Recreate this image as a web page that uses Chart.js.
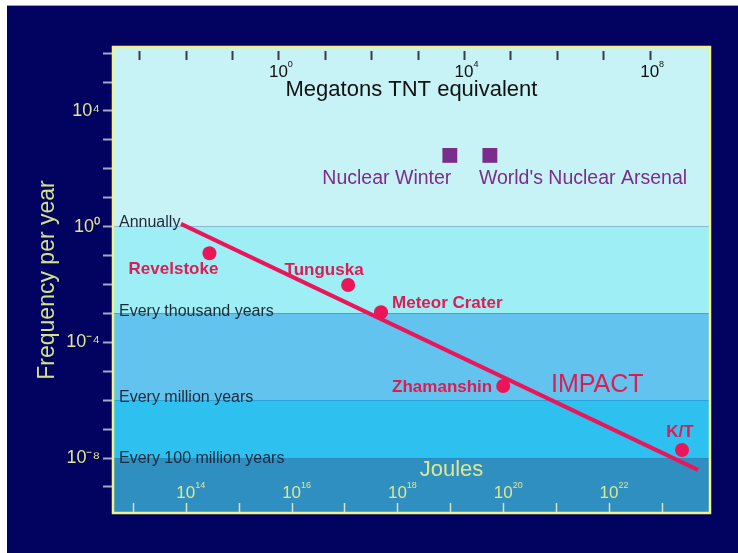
<!DOCTYPE html>
<html>
<head>
<meta charset="utf-8">
<script src="https://cdn.jsdelivr.net/npm/chart.js@4/dist/chart.umd.min.js"></script>
<style>
  html, body { margin: 0; padding: 0; background: #ffffff; }
  canvas { display: block; }
</style>
</head>
<body>
<canvas id="chart" width="738" height="553"></canvas>
<script>
// impact frequency vs energy
const impactLine = [
  { x: 8.1e13, y: 1.24 },
  { x: 4.8e23, y: 3.9e-9 }
];

const eventNames = ["Revelstoke", "Tunguska", "Meteor Crater", "Zhamanshin", "K/T"];
const eventEnergy = [2.8e14, 1.17e17, 4.9e17, 1e20, 2.4e23];   // joules
const eventFreq = [0.12, 9.6e-3, 1.1e-3, 3.1e-6, 1.9e-8];        // per year

const nuclearNames = ["Nuclear Winter", "World's Nuclear Arsenal"];
const nuclearEnergy = [9.8e18, 5.6e19];
const nuclearFreq = [290, 290];

const bandNames = ["Annually", "Every thousand years", "Every million years", "Every 100 million years"];
const bandFreq = [1, 1e-3, 1e-6, 1e-8];

const freqPowers = [6, 5, 4, 3, 2, 1, 0, -1, -2, -3, -4, -5, -6, -7, -8, -9];
const freqLabelPowers = [4, 0, -4, -8];
const joulePowers = [13, 14, 15, 16, 17, 18, 19, 20, 21, 22, 23];
const jouleLabelPowers = [14, 16, 18, 20, 22];
const megatonPowers = [-3, -2, -1, 0, 1, 2, 3, 4, 5, 6, 7, 8];
const megatonLabelPowers = [0, 4, 8];

const FONT = "'Liberation Sans', Arial, Helvetica, sans-serif";
const RED = "#ea1659";
const RED_TEXT = "#dc1d55";
const PURPLE = "#7a2d8a";
const YELLOW = "#dfe78e";
const bandColors = ["#c8f3f6", "#9deef5", "#62c4ee", "#2ec0ee", "#2f8fc1"];
const bandLabelShift = [-4, -2, -3, 1];

// label placement relative to each marker (px)
const eventLabelPlace = [
  { dx: -36, dy: 16, align: "center" },
  { dx: -24, dy: -15, align: "center" },
  { dx: 11, dy: -9, align: "left" },
  { dx: -11, dy: 1, align: "right" },
  { dx: -2, dy: -18, align: "center" }
];
const nuclearLabelPlace = [
  { dx: -63, dy: 23, align: "center" },
  { dx: -11, dy: 23, align: "left" }
];

const SUP = { "0": "\u2070", "1": "\u00b9", "2": "\u00b2", "3": "\u00b3", "4": "\u2074",
  "5": "\u2075", "6": "\u2076", "7": "\u2077", "8": "\u2078", "9": "\u2079", "-": "\u207b" };
const sup = p => String(p).split("").map(c => SUP[c]).join("");

function drawPow(ctx, x, y, p, size, color) {
  ctx.fillStyle = color;
  ctx.textBaseline = "middle";
  ctx.textAlign = "left";
  ctx.font = size + "px " + FONT;
  const w = ctx.measureText("10").width;
  ctx.fillText("10", x - w / 2, y);
  ctx.font = Math.round(size * 0.55) + "px " + FONT;
  ctx.fillText(String(p), x + w / 2, y - size * 0.42);
}

const backdrop = {
  id: "backdrop",
  beforeDraw(chart) {
    const { ctx, chartArea: a, scales: { y } } = chart;
    ctx.save();
    ctx.fillStyle = "#020260";
    ctx.fillRect(7, 6, chart.width - 7, chart.height - 6);
    ctx.fillStyle = "#9a9ab0";
    ctx.fillRect(7, 5, chart.width - 7, 1);
    // frequency bands
    const edges = [a.top].concat(bandFreq.map(f => y.getPixelForValue(f)), [a.bottom]);
    for (let i = 0; i < bandColors.length; i++) {
      ctx.fillStyle = bandColors[i];
      ctx.fillRect(a.left, edges[i], a.right - a.left, edges[i + 1] - edges[i]);
    }
    // band names
    ctx.fillStyle = "#1c2a3c";
    ctx.font = "16px " + FONT;
    ctx.textAlign = "left";
    ctx.textBaseline = "middle";
    bandNames.forEach((n, i) => {
      ctx.fillText(n, a.left + 6, edges[i + 1] + bandLabelShift[i]);
    });
    ctx.restore();
  }
};

const overlay = {
  id: "overlay",
  afterDraw(chart) {
    const { ctx, chartArea: a, scales: { x, xMt } } = chart;
    ctx.save();
    // frame
    ctx.strokeStyle = "#f3f38a";
    ctx.lineWidth = 2.5;
    ctx.strokeRect(a.left, a.top, a.right - a.left, a.bottom - a.top);

    // top axis: megatons
    ctx.strokeStyle = "#3c3c46";
    ctx.lineWidth = 2;
    megatonPowers.forEach(p => {
      const px = Math.round(xMt.getPixelForValue(10 ** p)) + 0.5;
      ctx.beginPath(); ctx.moveTo(px, a.top + 4); ctx.lineTo(px, a.top + 13); ctx.stroke();
    });
    megatonLabelPowers.forEach(p => drawPow(ctx, xMt.getPixelForValue(10 ** p), a.top + 25, p, 17, "#111111"));
    ctx.fillStyle = "#111111";
    ctx.font = "22px " + FONT;
    ctx.textAlign = "center";
    ctx.textBaseline = "middle";
    ctx.fillText("Megatons TNT equivalent", (a.left + a.right) / 2, a.top + 43);

    // bottom axis: joules
    ctx.strokeStyle = "#d9e2c0";
    ctx.lineWidth = 1.5;
    joulePowers.forEach(p => {
      const px = Math.round(x.getPixelForValue(10 ** p)) + 0.5;
      ctx.beginPath(); ctx.moveTo(px, a.bottom - 10); ctx.lineTo(px, a.bottom - 1); ctx.stroke();
    });
    jouleLabelPowers.forEach(p => drawPow(ctx, x.getPixelForValue(10 ** p), a.bottom - 20, p, 17, YELLOW));
    ctx.fillStyle = YELLOW;
    ctx.font = "22px " + FONT;
    ctx.textAlign = "center";
    ctx.textBaseline = "middle";
    ctx.fillText("Joules", (a.left + a.right) / 2 + 40, a.bottom - 43);

    // impact event labels
    const ev = chart.getDatasetMeta(1).data;
    ctx.fillStyle = RED_TEXT;
    ctx.font = "bold 17px " + FONT;
    eventNames.forEach((n, i) => {
      const pl = eventLabelPlace[i];
      ctx.textAlign = pl.align;
      ctx.fillText(n, ev[i].x + pl.dx, ev[i].y + pl.dy);
    });
    ctx.font = "25px " + FONT;
    ctx.textAlign = "center";
    ctx.fillText("IMPACT", x.getPixelForValue(6e21), chart.scales.y.getPixelForValue(3.4e-6));

    // nuclear labels
    const nu = chart.getDatasetMeta(2).data;
    ctx.fillStyle = PURPLE;
    ctx.font = "19.5px " + FONT;
    nuclearNames.forEach((n, i) => {
      const pl = nuclearLabelPlace[i];
      ctx.textAlign = pl.align;
      ctx.fillText(n, nu[i].x + pl.dx, nu[i].y + pl.dy);
    });
    ctx.restore();
  }
};

new Chart(document.getElementById("chart"), {
  type: "scatter",
  data: {
    datasets: [
      {
        label: "Impact",
        data: impactLine,
        showLine: true,
        borderColor: RED,
        borderWidth: 4,
        pointRadius: 0
      },
      {
        label: "Events",
        data: eventEnergy.map((e, i) => ({ x: e, y: eventFreq[i] })),
        backgroundColor: RED,
        borderWidth: 0,
        pointRadius: 7
      },
      {
        label: "Nuclear",
        data: nuclearEnergy.map((e, i) => ({ x: e, y: nuclearFreq[i] })),
        backgroundColor: PURPLE,
        borderWidth: 0,
        pointStyle: "rect",
        pointRadius: 10.5
      }
    ]
  },
  options: {
    responsive: false,
    animation: false,
    devicePixelRatio: 1,
    layout: { padding: { left: 7, top: 47, right: 28, bottom: 40 } },
    plugins: { legend: { display: false }, tooltip: { enabled: false } },
    scales: {
      x: {
        type: "logarithmic",
        position: "bottom",
        min: 10 ** 12.624,
        max: 10 ** 23.909,
        display: false
      },
      xMt: {
        type: "logarithmic",
        position: "top",
        min: 10 ** -3.564,
        max: 10 ** 9.30,
        display: false
      },
      y: {
        type: "logarithmic",
        position: "left",
        min: 10 ** -9.90,
        max: 10 ** 6.21,
        afterBuildTicks: s => { s.ticks = freqPowers.map(p => ({ value: 10 ** p })); },
        afterFit: s => { s.width = 106; },
        border: { display: false },
        grid: {
          drawOnChartArea: false,
          drawTicks: true,
          tickLength: 10,
          tickWidth: 2,
          tickColor: "#a4a8bc"
        },
        ticks: {
          autoSkip: false,
          padding: 3,
          color: YELLOW,
          font: { family: FONT, size: 18 },
          callback: v => {
            const p = Math.round(Math.log10(v));
            return freqLabelPowers.includes(p) ? "10" + sup(p) : "";
          }
        },
        title: {
          display: true,
          text: "Frequency per year",
          color: "#d3e28a",
          font: { family: FONT, size: 23 },
          padding: { top: 27, bottom: 0 }
        }
      }
    }
  },
  plugins: [backdrop, overlay]
});
</script>
</body>
</html>
